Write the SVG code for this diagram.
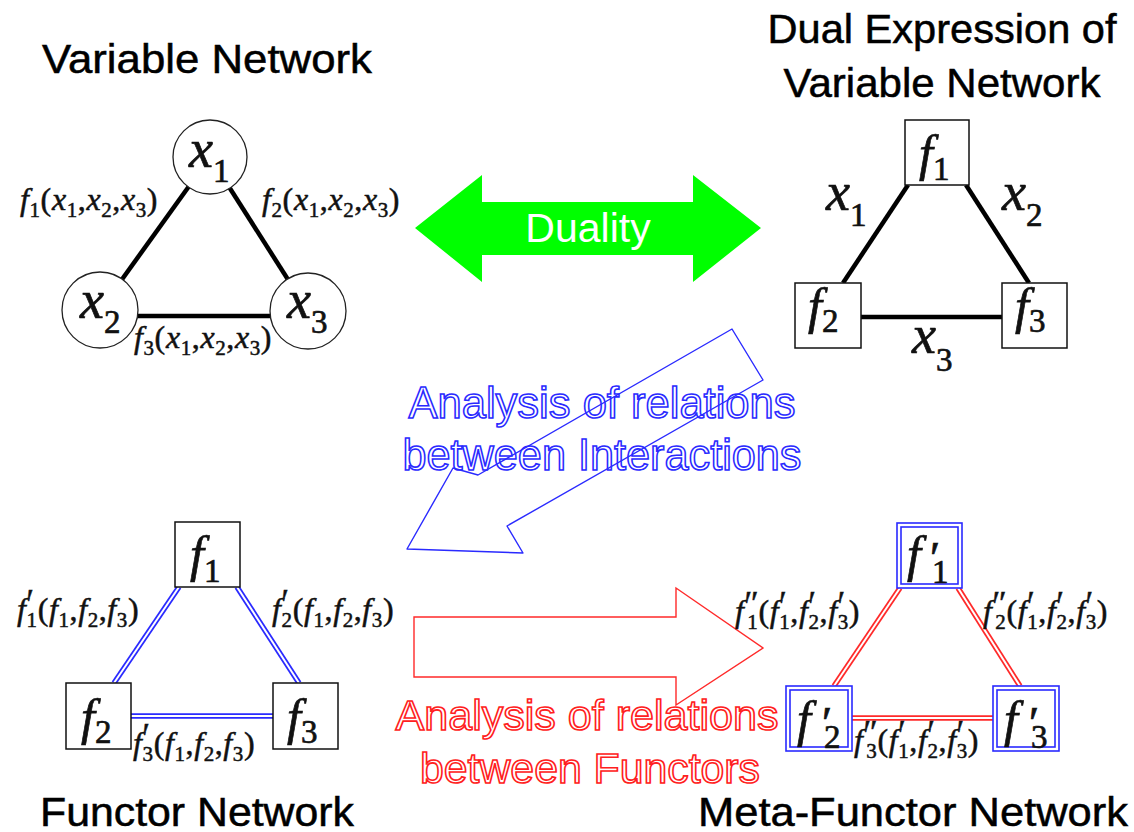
<svg xmlns="http://www.w3.org/2000/svg" width="1134" height="832" viewBox="0 0 1134 832">
<style>
.title{font-family:"Liberation Sans",Arial,Helvetica,sans-serif;font-size:40px;fill:#000;stroke:#000;stroke-width:0.5}
.m{font-family:"Liberation Serif","Times New Roman",serif;fill:#111;stroke:#111;stroke-width:0.7}
.i{font-style:italic}
.el{font-size:32px;letter-spacing:0.6px;stroke-width:0.5}
.s{font-size:21px;font-style:normal}
.p{font-size:34px;font-style:normal}
.nf{font-size:50px;font-style:italic}
.nx{font-size:54px;font-style:italic}
.ns{font-size:33px;font-style:normal}
.np{font-size:46px;font-style:normal}
.circ{fill:#fff;stroke:#222;stroke-width:1.3}
.box{fill:#fff;stroke:#111;stroke-width:1.5}
.dbox{fill:#fff;stroke:#2a2aff;stroke-width:1.6}
.thick{stroke:#000;stroke-width:4.5;stroke-linecap:butt}
.bl{stroke:#2a2aff;stroke-width:5.5}
.rl{stroke:#ff2a2a;stroke-width:5.5}
.gap{stroke:#fff;stroke-width:2}
.outb{font-family:"Liberation Sans",Arial,sans-serif;font-size:44px;fill:none;stroke:#2a2aff;stroke-width:1.6}
.outr{font-family:"Liberation Sans",Arial,sans-serif;font-size:42px;fill:none;stroke:#ff2020;stroke-width:1.6}
</style>
<rect width="1134" height="832" fill="#fff"/>

<!-- Titles -->
<g id="titles">
<text class="title" x="42" y="73" textLength="330" lengthAdjust="spacingAndGlyphs">Variable Network</text>
<text class="title" x="942" y="43" text-anchor="middle" textLength="349" lengthAdjust="spacingAndGlyphs">Dual Expression of</text>
<text class="title" x="942" y="97" text-anchor="middle" textLength="317" lengthAdjust="spacingAndGlyphs">Variable Network</text>
<text class="title" x="40" y="826" textLength="314" lengthAdjust="spacingAndGlyphs">Functor Network</text>
<text class="title" x="698" y="826" textLength="430" lengthAdjust="spacingAndGlyphs">Meta-Functor Network</text>
</g>

<!-- Big arrows -->
<g id="duality-arrow">
<polygon points="415,228 482,175 482,202 693,202 693,175 761,228 693,282 693,255 482,255 482,282" fill="#00ff00"/>
<text x="588" y="242" text-anchor="middle" font-family="'Liberation Sans',Arial,sans-serif" font-size="41" fill="#fff">Duality</text>
</g>
<g id="interaction-arrow">
<polygon points="732,329 763,380 507,526 523,553 407,549 453,468 478,475" fill="none" stroke="#2a2aff" stroke-width="1.4" stroke-linejoin="round"/>
<text class="outb" x="602" y="418" text-anchor="middle" textLength="387" lengthAdjust="spacingAndGlyphs">Analysis of relations</text>
<text class="outb" x="602" y="470" text-anchor="middle" textLength="399" lengthAdjust="spacingAndGlyphs">between Interactions</text>
</g>
<g id="functor-arrow">
<polygon points="414,617 676,617 676,588 763,648 676,705 676,677 414,677" fill="none" stroke="#ff2a2a" stroke-width="1.4"/>
<text class="outr" x="587" y="730" text-anchor="middle" textLength="383" lengthAdjust="spacingAndGlyphs">Analysis of relations</text>
<text class="outr" x="590" y="783" text-anchor="middle" textLength="340" lengthAdjust="spacingAndGlyphs">between Functors</text>
</g>

<!-- Connectors -->
<g id="connectors">
<line class="thick" x1="210" y1="157" x2="100" y2="310"/>
<line class="thick" x1="210" y1="157" x2="308" y2="311"/>
<line class="thick" x1="100" y1="316" x2="308" y2="316"/>

<line class="thick" x1="908" y1="185" x2="843" y2="283"/>
<line class="thick" x1="966" y1="185" x2="1029" y2="283"/>
<line class="thick" x1="861" y1="317" x2="1002" y2="317"/>

<line class="bl" x1="179" y1="587" x2="114" y2="683"/>
<line class="gap" x1="179" y1="587" x2="114" y2="683"/>
<line class="bl" x1="237" y1="587" x2="299" y2="683"/>
<line class="gap" x1="237" y1="587" x2="299" y2="683"/>
<line class="bl" x1="131" y1="716" x2="273" y2="716"/>
<line class="gap" x1="131" y1="716" x2="273" y2="716"/>

<line class="rl" x1="900" y1="588" x2="834" y2="686"/>
<line class="gap" x1="900" y1="588" x2="834" y2="686"/>
<line class="rl" x1="958" y1="588" x2="1020" y2="686"/>
<line class="gap" x1="958" y1="588" x2="1020" y2="686"/>
<line class="rl" x1="852" y1="718" x2="993" y2="718"/>
<line class="gap" x1="852" y1="718" x2="993" y2="718"/>
</g>

<!-- Edge labels -->
<g id="edge-labels">
<text class="m el" x="20" y="210"><tspan class="i">f</tspan><tspan class="s" dy="7">1</tspan><tspan dy="-7">(</tspan><tspan class="i">x</tspan><tspan class="s" dy="7">1</tspan><tspan dy="-7">,</tspan><tspan class="i">x</tspan><tspan class="s" dy="7">2</tspan><tspan dy="-7">,</tspan><tspan class="i">x</tspan><tspan class="s" dy="7">3</tspan><tspan dy="-7">)</tspan></text>
<text class="m el" x="262" y="210"><tspan class="i">f</tspan><tspan class="s" dy="7">2</tspan><tspan dy="-7">(</tspan><tspan class="i">x</tspan><tspan class="s" dy="7">1</tspan><tspan dy="-7">,</tspan><tspan class="i">x</tspan><tspan class="s" dy="7">2</tspan><tspan dy="-7">,</tspan><tspan class="i">x</tspan><tspan class="s" dy="7">3</tspan><tspan dy="-7">)</tspan></text>
<text class="m el" x="134" y="348"><tspan class="i">f</tspan><tspan class="s" dy="7">3</tspan><tspan dy="-7">(</tspan><tspan class="i">x</tspan><tspan class="s" dy="7">1</tspan><tspan dy="-7">,</tspan><tspan class="i">x</tspan><tspan class="s" dy="7">2</tspan><tspan dy="-7">,</tspan><tspan class="i">x</tspan><tspan class="s" dy="7">3</tspan><tspan dy="-7">)</tspan></text>

<text class="m" x="826" y="210"><tspan class="nx">x</tspan><tspan class="ns" dy="16">1</tspan></text>
<text class="m" x="1002" y="210"><tspan class="nx">x</tspan><tspan class="ns" dy="16">2</tspan></text>
<text class="m" x="912" y="353"><tspan class="nx">x</tspan><tspan class="ns" dy="18">3</tspan></text>

<text class="m el" x="17" y="620"><tspan class="i">f</tspan><tspan class="p" dy="-8">′</tspan><tspan class="s" dx="-8" dy="15">1</tspan><tspan dy="-7">(</tspan><tspan class="i">f</tspan><tspan class="s" dy="7">1</tspan><tspan dy="-7">,</tspan><tspan class="i">f</tspan><tspan class="s" dy="7">2</tspan><tspan dy="-7">,</tspan><tspan class="i">f</tspan><tspan class="s" dy="7">3</tspan><tspan dy="-7">)</tspan></text>
<text class="m el" x="272" y="620"><tspan class="i">f</tspan><tspan class="p" dy="-8">′</tspan><tspan class="s" dx="-8" dy="15">2</tspan><tspan dy="-7">(</tspan><tspan class="i">f</tspan><tspan class="s" dy="7">1</tspan><tspan dy="-7">,</tspan><tspan class="i">f</tspan><tspan class="s" dy="7">2</tspan><tspan dy="-7">,</tspan><tspan class="i">f</tspan><tspan class="s" dy="7">3</tspan><tspan dy="-7">)</tspan></text>
<text class="m el" x="133" y="754"><tspan class="i">f</tspan><tspan class="p" dy="-8">′</tspan><tspan class="s" dx="-8" dy="15">3</tspan><tspan dy="-7">(</tspan><tspan class="i">f</tspan><tspan class="s" dy="7">1</tspan><tspan dy="-7">,</tspan><tspan class="i">f</tspan><tspan class="s" dy="7">2</tspan><tspan dy="-7">,</tspan><tspan class="i">f</tspan><tspan class="s" dy="7">3</tspan><tspan dy="-7">)</tspan></text>

<text class="m el" x="735" y="622"><tspan class="i">f</tspan><tspan class="p" dy="-8">″</tspan><tspan class="s" dx="-12" dy="15">1</tspan><tspan dy="-7">(</tspan><tspan class="i">f</tspan><tspan class="p" dy="-8">′</tspan><tspan class="s" dx="-8" dy="15">1</tspan><tspan dy="-7">,</tspan><tspan class="i">f</tspan><tspan class="p" dy="-8">′</tspan><tspan class="s" dx="-8" dy="15">2</tspan><tspan dy="-7">,</tspan><tspan class="i">f</tspan><tspan class="p" dy="-8">′</tspan><tspan class="s" dx="-8" dy="15">3</tspan><tspan dy="-7">)</tspan></text>
<text class="m el" x="983" y="622"><tspan class="i">f</tspan><tspan class="p" dy="-8">″</tspan><tspan class="s" dx="-12" dy="15">2</tspan><tspan dy="-7">(</tspan><tspan class="i">f</tspan><tspan class="p" dy="-8">′</tspan><tspan class="s" dx="-8" dy="15">1</tspan><tspan dy="-7">,</tspan><tspan class="i">f</tspan><tspan class="p" dy="-8">′</tspan><tspan class="s" dx="-8" dy="15">2</tspan><tspan dy="-7">,</tspan><tspan class="i">f</tspan><tspan class="p" dy="-8">′</tspan><tspan class="s" dx="-8" dy="15">3</tspan><tspan dy="-7">)</tspan></text>
<text class="m el" x="854" y="751"><tspan class="i">f</tspan><tspan class="p" dy="-8">″</tspan><tspan class="s" dx="-12" dy="15">3</tspan><tspan dy="-7">(</tspan><tspan class="i">f</tspan><tspan class="p" dy="-8">′</tspan><tspan class="s" dx="-8" dy="15">1</tspan><tspan dy="-7">,</tspan><tspan class="i">f</tspan><tspan class="p" dy="-8">′</tspan><tspan class="s" dx="-8" dy="15">2</tspan><tspan dy="-7">,</tspan><tspan class="i">f</tspan><tspan class="p" dy="-8">′</tspan><tspan class="s" dx="-8" dy="15">3</tspan><tspan dy="-7">)</tspan></text>
</g>

<!-- Variable network nodes -->
<g id="node-x1"><circle class="circ" cx="210" cy="157" r="37"/><text class="m" x="189" y="167"><tspan class="nx">x</tspan><tspan class="ns" dy="15">1</tspan></text></g>
<g id="node-x2"><circle class="circ" cx="100" cy="310" r="38"/><text class="m" x="80" y="318"><tspan class="nx">x</tspan><tspan class="ns" dy="15">2</tspan></text></g>
<g id="node-x3"><circle class="circ" cx="308" cy="311" r="38"/><text class="m" x="287" y="318"><tspan class="nx">x</tspan><tspan class="ns" dy="15">3</tspan></text></g>

<!-- Dual expression nodes -->
<g id="node-dual-f1"><rect class="box" x="905" y="120" width="64" height="65"/><text class="m" x="919" y="170"><tspan class="nf">f</tspan><tspan class="ns" dy="10">1</tspan></text></g>
<g id="node-dual-f2"><rect class="box" x="795" y="283" width="66" height="65"/><text class="m" x="808" y="323"><tspan class="nf">f</tspan><tspan class="ns" dy="9">2</tspan></text></g>
<g id="node-dual-f3"><rect class="box" x="1002" y="283" width="65" height="65"/><text class="m" x="1015" y="323"><tspan class="nf">f</tspan><tspan class="ns" dy="9">3</tspan></text></g>

<!-- Functor network nodes -->
<g id="node-fn-f1"><rect class="box" x="175" y="522" width="65" height="65"/><text class="m" x="190" y="571"><tspan class="nf">f</tspan><tspan class="ns" dy="11">1</tspan></text></g>
<g id="node-fn-f2"><rect class="box" x="66" y="683" width="65" height="66"/><text class="m" x="81" y="734"><tspan class="nf">f</tspan><tspan class="ns" dy="9">2</tspan></text></g>
<g id="node-fn-f3"><rect class="box" x="273" y="683" width="65" height="66"/><text class="m" x="287" y="734"><tspan class="nf">f</tspan><tspan class="ns" dy="9">3</tspan></text></g>

<!-- Meta-functor network nodes -->
<g id="node-mf-f1"><rect class="dbox" x="897" y="523" width="65" height="65"/><rect class="dbox" x="901" y="527" width="57" height="57"/><text class="m" y="571"><tspan class="nf" x="907">f</tspan><tspan class="np" x="930" y="574">′</tspan><tspan class="ns" x="932" y="583">1</tspan></text></g>
<g id="node-mf-f2"><rect class="dbox" x="786" y="686" width="66" height="65"/><rect class="dbox" x="790" y="690" width="58" height="57"/><text class="m" y="736"><tspan class="nf" x="797">f</tspan><tspan class="np" x="822" y="739">′</tspan><tspan class="ns" x="824" y="748">2</tspan></text></g>
<g id="node-mf-f3"><rect class="dbox" x="993" y="686" width="66" height="65"/><rect class="dbox" x="997" y="690" width="58" height="57"/><text class="m" y="736"><tspan class="nf" x="1004">f</tspan><tspan class="np" x="1029" y="739">′</tspan><tspan class="ns" x="1031" y="748">3</tspan></text></g>
</svg>
